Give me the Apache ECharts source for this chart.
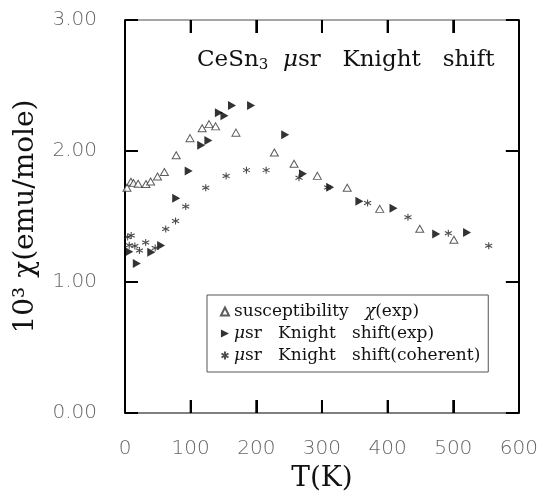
<!DOCTYPE html>
<html>
<head>
<meta charset="utf-8">
<script src="https://cdn.jsdelivr.net/npm/echarts@6/dist/echarts.min.js"></script>
<style>
  html, body { margin: 0; padding: 0; background: #fff; }
  #chart { width: 541px; height: 498px; }
</style>
</head>
<body>
<div id="chart"></div>
<script>
// Temperature (K) and susceptibility chi(exp), in 10^-3 emu/mole
const suscT = [3, 9, 13, 20, 32, 39, 49.5, 60, 78, 99, 117.5, 128, 138, 169, 227.5, 257.5, 293, 338.5, 388, 449, 501];
const suscV = [1.72, 1.765, 1.755, 1.75, 1.748, 1.767, 1.805, 1.84, 1.967, 2.098, 2.174, 2.205, 2.188, 2.14, 1.988, 1.903, 1.81, 1.72, 1.558, 1.407, 1.322];

// muSR Knight shift, experimental
const knightT = [6.5, 18, 40, 55, 78, 97, 116, 127, 143, 151.5, 163, 192, 244, 271, 312.5, 357, 409, 474, 521];
const knightV = [1.23, 1.142, 1.228, 1.278, 1.64, 1.847, 2.043, 2.08, 2.292, 2.269, 2.347, 2.347, 2.124, 1.826, 1.723, 1.616, 1.563, 1.367, 1.377];

// muSR Knight shift, coherent part
const coherentT = [4, 9.5, 6.5, 15, 22, 31.5, 46, 62, 77, 92.5, 123, 154, 185, 215, 265, 308.5, 369.5, 431, 492.5, 554];
const coherentV = [1.343, 1.355, 1.28, 1.275, 1.24, 1.302, 1.26, 1.405, 1.466, 1.577, 1.72, 1.81, 1.854, 1.854, 1.795, 1.722, 1.603, 1.494, 1.372, 1.276];

// inner tick positions on the frame
const xTickValues = [100, 200, 300, 400, 500];
const yTickValues = [1, 2];

const seriesNames = ['susceptibility χ(exp)', 'μsr Knight shift(exp)', 'μsr Knight shift(coherent)'];

const pairs = (xs, ys) => xs.map((x, i) => [x, ys[i]]);

const SERIF = "'DejaVu Serif', serif";
const SANS = "'DejaVu Sans', sans-serif";
const X_MIN = 0, X_MAX = 600, Y_MIN = 0, Y_MAX = 3;

// a fresh tick spec for each frame side (inward ticks)
const ticks = () => ({ show: true, inside: true, length: 13, lineStyle: { color: '#000', width: 2 } });

// wide word spacing, as in the typeset labels
const spaced = s => s.replace(/ /g, '   ');

// tick marks on all four sides: [value, side] with side 0=bottom 1=top 2=left 3=right
const tickData = []
  .concat(xTickValues.map(v => [v, 0]), xTickValues.map(v => [v, 1]))
  .concat(yTickValues.map(v => [v, 2]), yTickValues.map(v => [v, 3]));

function renderTick(params, api) {
  const v = api.value(0);
  const side = api.value(1);
  const len = 13;
  let p, q;
  if (side === 0) { p = api.coord([v, Y_MIN]); q = [p[0], p[1] - len]; }
  else if (side === 1) { p = api.coord([v, Y_MAX]); q = [p[0], p[1] + len]; }
  else if (side === 2) { p = api.coord([X_MIN, v]); q = [p[0] + len, p[1]]; }
  else { p = api.coord([X_MAX, v]); q = [p[0] - len, p[1]]; }
  return {
    type: 'line',
    shape: { x1: p[0], y1: p[1], x2: q[0], y2: q[1] },
    style: { stroke: '#000', lineWidth: 2 }
  };
}

const option = {
  backgroundColor: '#fff',
  animation: false,
  grid: { left: 125, right: 22, top: 20, bottom: 85 },
  xAxis: [
    {
      type: 'value', min: X_MIN, max: X_MAX, interval: 100, position: 'bottom',
      splitLine: { show: false }, axisTick: ticks(),
      axisLine: { show: true, onZero: false, lineStyle: { color: '#555', width: 1.5 } },
      axisLabel: { margin: 26, fontSize: 20, fontFamily: SANS, fontWeight: 200, color: '#666' },
      name: 'T(K)', nameLocation: 'middle', nameGap: 52,
      nameTextStyle: { fontFamily: SERIF, fontSize: 28, color: '#111' }
    },
    {
      type: 'value', min: X_MIN, max: X_MAX, interval: 100, position: 'top',
      splitLine: { show: false }, axisTick: ticks(),
      axisLine: { show: true, onZero: false, lineStyle: { color: '#888', width: 1.5 } },
      axisLabel: { show: false }
    }
  ],
  yAxis: [
    {
      type: 'value', min: Y_MIN, max: Y_MAX, interval: 1, position: 'left',
      splitLine: { show: false }, axisTick: ticks(),
      axisLine: { show: true, onZero: false, lineStyle: { color: '#000', width: 2 } },
      axisLabel: { margin: 28, fontSize: 20, fontFamily: SANS, fontWeight: 200, color: '#666', formatter: v => v.toFixed(2) },
      name: '10³ χ(emu/mole)', nameLocation: 'middle', nameGap: 85,
      nameTextStyle: { fontFamily: SERIF, fontSize: 28, color: '#111' }
    },
    {
      type: 'value', min: Y_MIN, max: Y_MAX, interval: 1, position: 'right',
      splitLine: { show: false }, axisTick: ticks(),
      axisLine: { show: true, onZero: false, lineStyle: { color: '#000', width: 2 } },
      axisLabel: { show: false }
    }
  ],
  legend: {
    orient: 'vertical',
    left: 207, top: 295,
    padding: [7, 8, 7, 12],
    borderColor: '#555', borderWidth: 1,
    itemWidth: 8, itemHeight: 8, itemGap: 3,
    data: seriesNames,
    formatter: name => spaced(name).replace('μ', '{i|μ}').replace('χ', '{i|χ}'),
    textStyle: {
      fontFamily: SERIF, fontSize: 17, color: '#111', lineHeight: 19,
      rich: { i: { fontFamily: SERIF, fontSize: 17, fontStyle: 'italic', color: '#111' } }
    }
  },
  graphic: [{
    type: 'text', left: 197, top: 49,
    style: {
      text: 'CeSn{sub|3}  {i|μ}sr   Knight   shift',
      font: "23px 'DejaVu Serif', serif",
      fill: '#111',
      rich: {
        sub: { fontFamily: SERIF, fontSize: 15, fill: '#111', verticalAlign: 'bottom', padding: [9, 0, 0, 0] },
        i: { fontFamily: SERIF, fontSize: 23, fontStyle: 'italic', fill: '#111' }
      }
    }
  }],
  series: [
    {
      name: 'frame ticks', type: 'custom', silent: true, clip: false,
      data: tickData, renderItem: renderTick, z: 1
    },
    {
      name: seriesNames[0], type: 'scatter',
      data: pairs(suscT, suscV),
      symbol: 'triangle', symbolSize: [8, 7],
      itemStyle: { color: '#fff', borderColor: '#333', borderWidth: 1 }
    },
    {
      name: seriesNames[1], type: 'scatter',
      data: pairs(knightT, knightV),
      symbol: 'path://M0,0 L10,5 L0,10 Z', symbolSize: [8, 9],
      itemStyle: { color: '#000' }
    },
    {
      name: seriesNames[2], type: 'scatter',
      data: pairs(coherentT, coherentV),
      symbol: 'path://M5,0 L5,10 M0.67,2.5 L9.33,7.5 M0.67,7.5 L9.33,2.5',
      symbolSize: 7,
      itemStyle: { color: 'none', borderColor: '#222', borderWidth: 1.1 }
    }
  ]
};

const chart = echarts.init(document.getElementById('chart'), null, { renderer: 'canvas' });
chart.setOption(option);
</script>
</body>
</html>
